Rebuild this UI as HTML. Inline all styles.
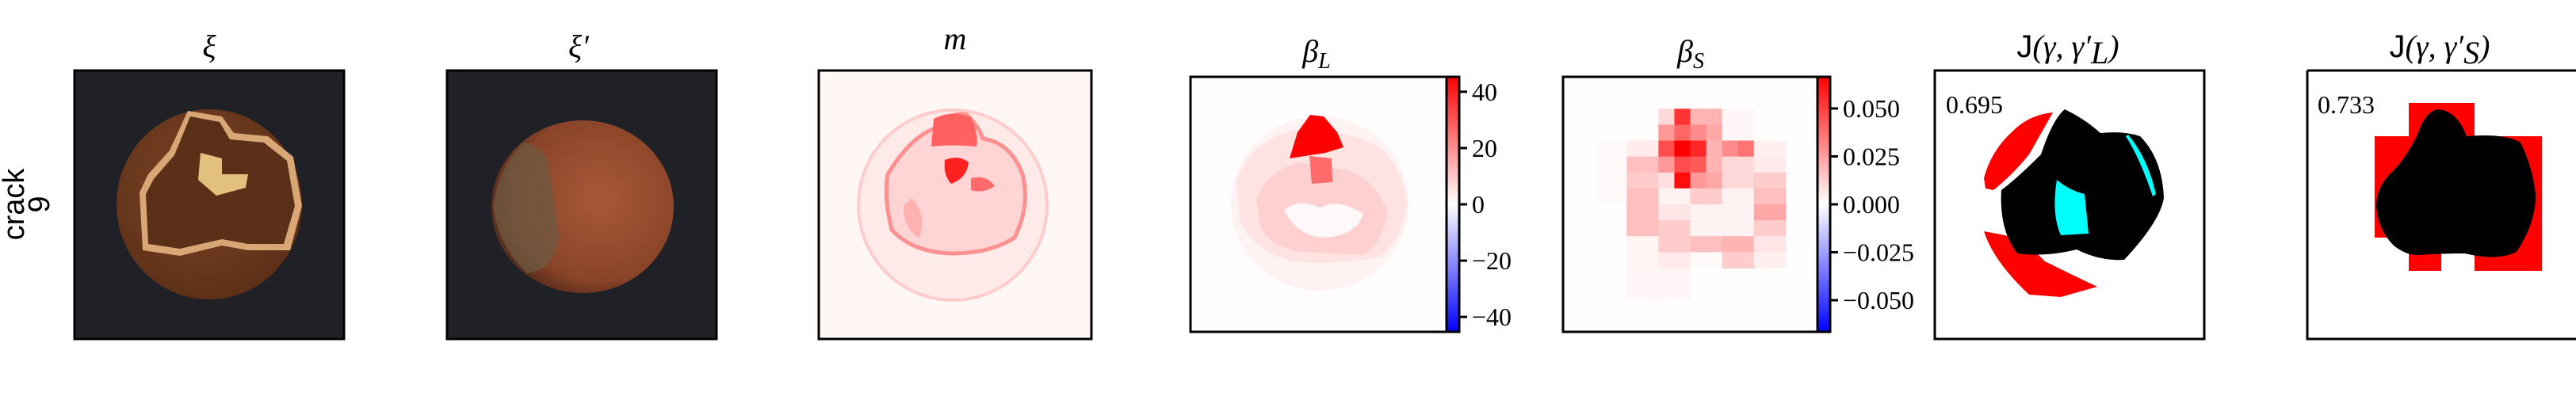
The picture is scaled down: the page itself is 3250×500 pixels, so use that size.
<!DOCTYPE html>
<html><head><meta charset="utf-8"><style>
html,body{margin:0;padding:0;background:#fff;}
svg{display:block;}
.t{font-family:"Liberation Serif",serif;font-style:italic;font-size:40px;}
.tk{font-family:"Liberation Serif",serif;font-size:32px;}
.s{font-family:"Liberation Sans",sans-serif;}
</style></head><body>
<svg id="fig" width="3250" height="500" viewBox="0 0 3250 500" xmlns="http://www.w3.org/2000/svg">
<defs>
<linearGradient id="bwr" x1="0" y1="0" x2="0" y2="1">
<stop offset="0" stop-color="#ff0000"/><stop offset="0.5" stop-color="#ffffff"/><stop offset="1" stop-color="#0000ff"/>
</linearGradient>
<radialGradient id="shell" cx="0.45" cy="0.4" r="0.6"><stop offset="0" stop-color="#7e4526"/><stop offset="1" stop-color="#5e3018"/></radialGradient>
<radialGradient id="nut2" cx="0.6" cy="0.45" r="0.6"><stop offset="0" stop-color="#a85838"/><stop offset="0.8" stop-color="#8a4428"/><stop offset="1" stop-color="#5a2e1c"/></radialGradient>
</defs>

<g class="s" font-size="38">
<text transform="translate(30,258) rotate(-90)" text-anchor="middle">crack</text>
<text transform="translate(62,258) rotate(-90)" text-anchor="middle">9</text>
</g>

<g>
<text class="t" x="264" y="72" text-anchor="middle">ξ</text>
<rect x="94" y="89" width="340" height="339" fill="#202126"/>
<ellipse cx="264" cy="258" rx="117" ry="120" fill="url(#shell)"/>
<path d="M237 140 L280 147 L295 168 L338 172 L370 198 L381 260 L366 316 L313 316 L280 310 L227 323 L180 316 L176 243 L187 220 L214 190Z" fill="#d9a676"/>
<path d="M240 147 L277 154 L290 176 L333 180 L362 203 L372 260 L358 308 L313 308 L280 302 L227 314 L187 308 L184 245 L194 226 L220 196Z" fill="#5a3018"/>
<path d="M253 193 L280 200 L280 220 L313 220 L310 237 L273 247 L250 227Z" fill="#e2c07e"/>
<rect x="94" y="89" width="340" height="339" fill="none" stroke="#000" stroke-width="3"/>
</g>

<g>
<text class="t" x="730" y="72" text-anchor="middle">ξ′</text>
<rect x="564" y="89" width="340" height="339" fill="#202126"/>
<ellipse cx="735" cy="261" rx="115" ry="109" fill="url(#nut2)"/>
<path d="M660 180 Q628 215 622 260 Q628 310 665 345 Q700 340 705 300 Q700 250 690 200 Q675 180 660 180Z" fill="#6e5a42" opacity="0.75"/>
<rect x="564" y="89" width="340" height="339" fill="none" stroke="#000" stroke-width="3"/>
</g>

<g>
<text class="t" x="1205" y="62" text-anchor="middle">m</text>
<rect x="1033" y="89" width="344" height="339" fill="#fff6f6"/>
<ellipse cx="1202" cy="259" rx="119" ry="120" fill="#ffeaea" stroke="#ffcccc" stroke-width="4"/>
<path d="M1120 220 Q1150 170 1185 160 Q1200 140 1220 145 Q1235 160 1240 175 Q1275 180 1290 220 Q1300 260 1280 300 Q1250 320 1200 320 Q1150 318 1125 290 Q1115 250 1120 220Z" fill="#ffd4d4" stroke="#ff9090" stroke-width="5"/>
<path d="M1150 250 Q1170 270 1160 300 Q1140 290 1140 260Z" fill="#ffb0b0"/>
<path d="M1178 150 Q1200 138 1225 148 Q1235 170 1232 185 Q1200 182 1175 185Z" fill="#ff6060"/>
<path d="M1192 202 Q1210 195 1222 205 Q1220 225 1200 232 Q1190 222 1192 202Z" fill="#ff2020"/>
<path d="M1225 225 Q1245 220 1255 235 Q1240 245 1225 240Z" fill="#ff6a6a"/>
<rect x="1033" y="89" width="344" height="339" fill="none" stroke="#000" stroke-width="3"/>
</g>

<g>
<text class="t" x="1661" y="78" text-anchor="middle">β<tspan font-size="28" dy="8">L</tspan></text>
<rect x="1502" y="97" width="323" height="322" fill="#fffdfd"/>
<ellipse cx="1665" cy="257" rx="112" ry="110" fill="#fff2f2"/>
<path d="M1560 230 Q1575 180 1630 165 Q1690 160 1740 185 Q1775 220 1775 260 Q1770 300 1740 325 Q1680 335 1630 330 Q1580 315 1565 280Z" fill="#ffe2e2"/>
<path d="M1585 250 Q1600 215 1640 205 L1700 215 Q1740 230 1750 270 Q1745 305 1720 322 Q1680 320 1640 318 Q1600 310 1590 285Z" fill="#ffd0d0"/>
<path d="M1620 265 Q1640 250 1665 262 Q1690 250 1720 270 Q1710 300 1665 300 Q1635 295 1620 265Z" fill="#fff8f8"/>
<path d="M1652 197 L1680 200 L1681 230 L1655 232Z" fill="#ff6a6a"/>
<path d="M1627 200 L1637 167 L1653 145 L1670 147 L1687 167 L1695 186 L1672 193 Z" fill="#ff0000"/>
<rect x="1502" y="97" width="323" height="322" fill="none" stroke="#000" stroke-width="3"/>
<rect x="1825" y="97" width="16" height="322" fill="url(#bwr)" stroke="#000" stroke-width="3"/>
<g id="ticksL"></g>
</g>

<g>
<text class="t" x="2133" y="78" text-anchor="middle">β<tspan font-size="28" dy="8">S</tspan></text>
<rect x="1972" y="97" width="321" height="322" fill="#fffdfd"/>
<g id="heatS"></g>
<rect x="1972" y="97" width="321" height="322" fill="none" stroke="#000" stroke-width="3"/>
<rect x="2293" y="97" width="16" height="322" fill="url(#bwr)" stroke="#000" stroke-width="3"/>
<g id="ticksS"></g>
</g>

<g>
<text x="2609" y="72" text-anchor="middle" font-size="40"><tspan class="s">J</tspan><tspan class="t" font-style="normal">(</tspan><tspan class="t">γ</tspan><tspan class="t" font-style="normal">, </tspan><tspan class="t">γ′</tspan><tspan class="t" font-size="26" dy="8">L</tspan><tspan class="t" font-style="normal" dy="-8">)</tspan></text>
<rect x="2441" y="89" width="340" height="339" fill="#fff"/>
<path d="M2590 142 Q2560 145 2540 165 Q2512 190 2503 225 L2505 238 L2515 240 Q2540 220 2560 195 Z" fill="#ff0000"/>
<path d="M2503 292 Q2515 330 2560 372 L2600 375 L2646 362 Q2610 345 2580 330 Q2560 310 2545 300Z" fill="#ff0000"/>
<path d="M2605 138 Q2590 150 2575 195 Q2545 225 2525 240 Q2522 290 2545 320 Q2580 325 2620 315 Q2650 330 2680 328 Q2725 280 2730 250 Q2728 200 2700 172 Q2680 165 2650 168 Q2630 150 2605 138Z" fill="#000"/>
<path d="M2595 227 Q2610 240 2630 245 L2635 295 L2600 297 Q2588 270 2595 227Z" fill="#00ffff"/>
<path d="M2685 170 Q2710 200 2720 245 L2716 248 Q2700 200 2682 172Z" fill="#00ffff"/>
<text class="tk" x="2455" y="143" font-style="normal">0.695</text>
<rect x="2441" y="89" width="340" height="339" fill="none" stroke="#000" stroke-width="3"/>
</g>

<g>
<text x="3078" y="72" text-anchor="middle" font-size="40"><tspan class="s">J</tspan><tspan class="t" font-style="normal">(</tspan><tspan class="t">γ</tspan><tspan class="t" font-style="normal">, </tspan><tspan class="t">γ′</tspan><tspan class="t" font-size="26" dy="8">S</tspan><tspan class="t" font-style="normal" dy="-8">)</tspan></text>
<rect x="2911" y="89" width="339" height="339" fill="#fff"/>
<path d="M3039 130 L3122 130 L3122 172 L3207 172 L3207 342 L3122 342 L3122 300 L3080 300 L3080 342 L3039 342 L3039 300 L2996 300 L2996 172 L3039 172Z" fill="#ff0000"/>
<path d="M3076 138 Q3060 140 3050 170 Q3035 200 3020 215 Q2998 235 2998 260 Q3000 290 3020 310 Q3035 322 3050 322 Q3080 320 3110 320 Q3150 330 3175 318 Q3200 280 3199 245 Q3195 210 3180 180 Q3160 168 3112 172 Q3100 140 3076 138Z" fill="#000"/>
<text class="tk" x="2924" y="143" font-style="normal">0.733</text>
<path d="M2911 89 L3250 89 M2911 89 L2911 428 L3250 428" fill="none" stroke="#000" stroke-width="3"/>
</g>
</svg>
<script>
const ticksLValues = [40, 20, 0, -20, -40];
const ticksLLabels = ["40", "20", "0", "\u221220", "\u221240"];
const ticksSValues = [0.05, 0.025, 0, -0.025, -0.05];
const ticksSLabels = ["0.050", "0.025", "0.000", "\u22120.025", "\u22120.050"];
const rangeL = 45.3;
const rangeS = 0.0665;
const heatRows = [2,3,4,5,6,7,8,9,10,11,12,13];
const heatVals = [
 [0,0,0,0,.15,.8,.3,.3,.03,.03,0,0],
 [0,0,0,0,.4,.6,.45,.35,.03,.03,0,0],
 [.02,.02,.08,.08,.7,1,.85,.3,.45,.55,.06,.06],
 [.02,.02,.25,.25,.4,.7,.65,.3,.15,.15,.08,.08],
 [.02,.02,.2,.2,.12,.95,.4,.35,.15,.15,.2,.2],
 [.02,.02,.25,.25,.05,.05,.2,.2,.05,.05,.25,.25],
 [0,0,.25,.25,.1,.1,.05,.05,.05,.05,.35,.35],
 [0,0,.25,.25,.2,.2,.05,.05,.05,.05,.2,.2],
 [0,0,.04,.04,.2,.2,.25,.25,.3,.3,.1,.1],
 [0,0,.04,.04,.08,.08,.02,.02,.2,.2,.06,.06],
 [0,0,.03,.03,.03,.03,0,0,0,0,0,0],
 [0,0,.03,.03,.03,.03,0,0,0,0,0,0]
];
const NS = "http://www.w3.org/2000/svg";
function yAxis(v, range, top, h){ return top + h/2 - (v/range)*(h/2); }
function drawTicks(gid, vals, labels, range, x0){
  const g = document.getElementById(gid);
  vals.forEach((v,i)=>{
    const y = yAxis(v, range, 97, 322);
    const l = document.createElementNS(NS,'line');
    
    
    l.setAttribute('x1', x0); l.setAttribute('x2', x0+10);
    l.setAttribute('y1', y); l.setAttribute('y2', y);
    l.setAttribute('stroke', '#000'); l.setAttribute('stroke-width', '3');
    g.appendChild(l);
    const t = document.createElementNS(NS,'text');
    
    
    t.setAttribute('class', 'tk');
    t.setAttribute('x', x0+16); t.setAttribute('y', y+11);
    t.textContent = labels[i];
    g.appendChild(t);
  });
}
drawTicks('ticksL', ticksLValues, ticksLLabels, rangeL, 1841);
drawTicks('ticksS', ticksSValues, ticksSLabels, rangeS, 2309);
const hg = document.getElementById('heatS');
const cw = 321/16, ch = 322/16;
heatRows.forEach((r,ri)=>{
  heatVals[ri].forEach((v,ci)=>{
    if(v<=0) return;
    const c = document.createElementNS(NS,'rect');
    
    
    c.setAttribute('x', 1972 + (ci+2)*cw);
    c.setAttribute('y', 97 + r*ch);
    c.setAttribute('width', cw+0.5);
    c.setAttribute('height', ch+0.5);
    const gb = Math.round(255*(1-v));
    c.setAttribute('fill', `rgb(255,${gb},${gb})`);
    hg.appendChild(c);
  });
});
</script>
</body></html>
